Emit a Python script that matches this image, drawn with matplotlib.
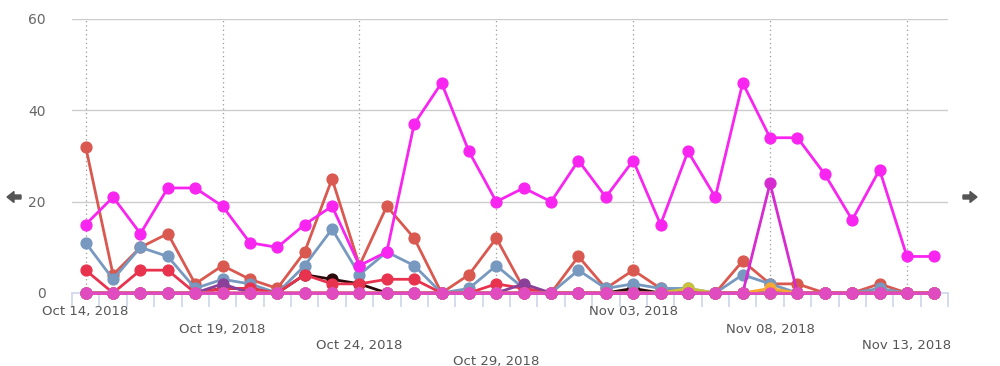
import matplotlib
matplotlib.use("Agg")
import matplotlib.pyplot as plt
from matplotlib.patches import FancyArrow

dates = ["Oct 14", "Oct 15", "Oct 16", "Oct 17", "Oct 18", "Oct 19", "Oct 20", "Oct 21",
         "Oct 22", "Oct 23", "Oct 24", "Oct 25", "Oct 26", "Oct 27", "Oct 28", "Oct 29",
         "Oct 30", "Oct 31", "Nov 01", "Nov 02", "Nov 03", "Nov 04", "Nov 05", "Nov 06",
         "Nov 07", "Nov 08", "Nov 09", "Nov 10", "Nov 11", "Nov 12", "Nov 13", "Nov 14"]

tick_labels = ["Oct 14, 2018", "Oct 19, 2018", "Oct 24, 2018", "Oct 29, 2018",
               "Nov 03, 2018", "Nov 08, 2018", "Nov 13, 2018"]
tick_idx = [0, 5, 10, 15, 20, 25, 30]

red = [32, 4, 10, 13, 2, 6, 3, 1, 9, 25, 6, 19, 12, 0, 4, 12,
       1, 0, 8, 1, 5, 1, 0, 0, 7, 2, 2, 0, 0, 2, 0, 0]
blue = [11, 3, 10, 8, 1, 3, 2, 0, 6, 14, 4, 9, 6, 0, 1, 6,
        1, 0, 5, 1, 2, 1, 1, 0, 4, 2, 0, 0, 0, 1, 0, 0]
crimson = [5, 0, 5, 5, 0, 1, 1, 0, 4, 2, 2, 3, 3, 0, 0, 2,
           1, 0, 0, 0, 0, 0, 0, 0, 0, 0, 0, 0, 0, 0, 0, 0]
dark = [0, 0, 0, 0, 0, 1, 1, 0, 4, 3, 2, 0, 0, 0, 0, 0,
        0, 0, 0, 0, 1, 0, 0, 0, 0, 0, 0, 0, 0, 0, 0, 0]
purple = [0, 0, 0, 0, 0, 2, 0, 0, 0, 0, 0, 0, 0, 0, 0, 0,
          2, 0, 0, 0, 0, 0, 0, 0, 0, 0, 0, 0, 0, 0, 0, 0]
olive = [0] * 22 + [1] + [0] * 9
orange = [0] * 25 + [1] + [0] * 6
magenta = [15, 21, 13, 23, 23, 19, 11, 10, 15, 19, 6, 9, 37, 46, 31, 20,
           23, 20, 29, 21, 29, 15, 31, 21, 46, 34, 34, 26, 16, 27, 8, 8]
spike = [0] * 25 + [24] + [0] * 6
pink = [0] * 32

series = [
    (dark, "#2a0a0a"),
    (red, "#d9584f"),
    (blue, "#7798bf"),
    (crimson, "#e8334f"),
    (purple, "#8a3f99"),
    (olive, "#c9c23a"),
    (orange, "#f7a830"),
    (magenta, "#f825f0"),
    (spike, "#d52bd0"),
    (pink, "#e04cc0"),
]

fig = plt.figure(figsize=(10, 3.66), dpi=100)
ax = fig.add_axes([0.072, 73 / 366, 0.876, 274 / 366])
x = list(range(len(dates)))

for yv in [20, 40, 60]:
    ax.axhline(yv, color="#cccccc", lw=1.0, zorder=0)
for i in tick_idx:
    ax.axvline(i, color="#999999", lw=0.9, ls=(0, (1, 2.5)), zorder=0)

for vals, col in series:
    ax.plot(x, vals, color=col, lw=2.0, marker="o", ms=7.8, mec=col, mfc=col,
            clip_on=False, zorder=3)

ax.set_xlim(-0.48, 31.5)
ax.set_ylim(0, 60)
for s in ["top", "right", "left"]:
    ax.spines[s].set_visible(False)
ax.spines["bottom"].set_color("#ccd6eb")
ax.spines["bottom"].set_linewidth(1.2)

ax.set_xticks([i - 0.5 for i in range(33)])
ax.set_xticklabels([])
ax.tick_params(axis="x", length=10, color="#ccd6eb", width=1.2)
ax.set_yticks([0, 20, 40, 60])
ax.set_yticklabels(["0", "20", "40", "60"])
ax.tick_params(axis="y", length=0, pad=19, labelcolor="#666666", labelsize=10)

offsets = [312, 329, 345, 361]
for k, (i, lab) in enumerate(zip(tick_idx, tick_labels)):
    ypix = offsets[k % 4]
    yfrac = (293 - ypix) / 274
    ax.text(i, yfrac, lab, transform=ax.get_xaxis_transform(), ha="center",
            va="center", fontsize=9.5, color="#555555")

# navigation arrows
tr = fig.dpi_scale_trans
fig.patches.append(FancyArrow(0.21, 1.69, -0.14, 0, width=0.04, head_width=0.11,
                              head_length=0.07, length_includes_head=True,
                              color="#555555", transform=tr, figure=fig))
fig.patches.append(FancyArrow(9.63, 1.69, 0.14, 0, width=0.04, head_width=0.11,
                              head_length=0.07, length_includes_head=True,
                              color="#555555", transform=tr, figure=fig))

fig.savefig("out.png", dpi=100, facecolor="white")
